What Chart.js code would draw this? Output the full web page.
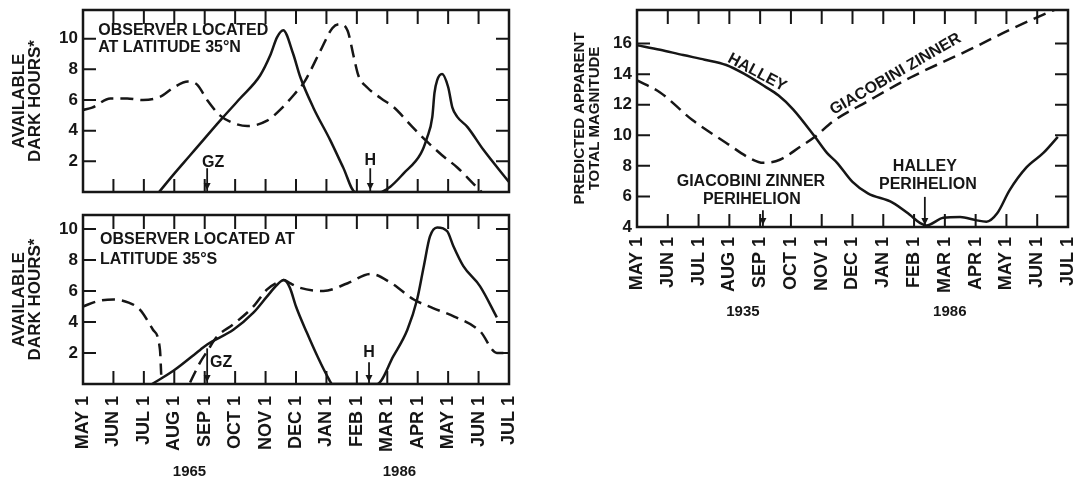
<!DOCTYPE html>
<html>
<head>
<meta charset="utf-8">
<script src="https://cdn.jsdelivr.net/npm/chart.js@4.4.1/dist/chart.umd.min.js"></script>
<style>
  html, body { margin: 0; padding: 0; background: #fff; }
  #wrap { position: relative; width: 1075px; height: 484px; overflow: hidden; background: #fff; }
  canvas { position: absolute; }
</style>
</head>
<body>
<div id="wrap">
  <canvas id="north" width="530" height="200" style="left:0px;top:0px"></canvas>
  <canvas id="south" width="530" height="279" style="left:0px;top:205px"></canvas>
  <canvas id="mag" width="535" height="330" style="left:540px;top:0px"></canvas>
</div>
<script>
// month axis shared by all three panels (May 1 -> Jul 1 of the next year)
const monthLabels = ['MAY 1', 'JUN 1', 'JUL 1', 'AUG 1', 'SEP 1', 'OCT 1', 'NOV 1', 'DEC 1',
                     'JAN 1', 'FEB 1', 'MAR 1', 'APR 1', 'MAY 1', 'JUN 1', 'JUL 1'];
const monthTicks = [0, 1, 2, 3, 4, 5, 6, 7, 8, 9, 10, 11, 12, 13, 14];
const hourTicks = [2, 4, 6, 8, 10];
const magTicks = [4, 6, 8, 10, 12, 14, 16];
const darkYears = ['1965', '1986'];
const magYears = ['1935', '1986'];

// 35°N : Halley (solid) and Giacobini-Zinner (dashed)
const northHalleyX = [2.5, 3.0, 3.5, 4.0, 4.57, 5.16, 5.82, 6.15, 6.38, 6.58, 6.9, 7.14, 7.57, 8.12, 8.55, 8.95, 9.77,
                      10.1, 10.53, 11.1, 11.3, 11.48, 11.55, 11.64, 11.8, 12.0, 12.14, 12.3, 12.63, 13.16, 14];
const northHalleyY = [0, 1.2, 2.35, 3.5, 4.8, 6.1, 7.6, 8.9, 10.1, 10.55, 9.05, 7.5, 5.5, 3.4, 1.6, 0, 0,
                      0.35, 1.2, 2.5, 3.5, 4.9, 6.45, 7.3, 7.7, 6.85, 5.5, 4.9, 4.25, 2.75, 0.65];
const northGzX = [0, 0.3, 0.9, 1.45, 1.97, 2.53, 2.97, 3.45, 3.75, 4.08, 4.5, 4.94, 5.4, 6.05, 6.5, 7.0,
                  7.25, 7.8, 8.2, 8.45, 8.7, 8.9, 9.05, 9.35, 9.8, 10.2, 10.8, 11.3, 11.8, 12.3, 12.8, 13.1];
const northGzY = [5.35, 5.5, 6.1, 6.1, 6.0, 6.2, 6.8, 7.2, 7.0, 6.0, 5.0, 4.5, 4.3, 4.65, 5.4, 6.5,
                  7.1, 9.2, 10.7, 10.95, 10.5, 8.8, 7.6, 6.8, 6.1, 5.55, 4.3, 3.3, 2.4, 1.6, 0.6, 0];

// 35°S
const southHalleyX = [2.27, 2.97, 3.85, 4.08, 4.94, 5.6, 6.05, 6.38, 6.6, 6.8, 7.0, 7.36, 7.7, 8.03, 8.2, 9.66,
                      10.2, 10.66, 10.98, 11.2, 11.4, 11.64, 11.97, 12.17, 12.5, 13.05, 13.6];
const southHalleyY = [0, 0.85, 2.2, 2.55, 3.5, 4.6, 5.65, 6.4, 6.7, 6.2, 5.0, 3.3, 1.8, 0.5, 0, 0,
                      1.8, 3.5, 5.45, 7.6, 9.5, 10.1, 9.85, 8.9, 7.6, 6.3, 4.3];
const southGzX = [0, 0.5, 1.0, 1.5, 1.87, 2.3, 2.53, 2.57, 3.0, 3.52, 3.85, 4.08, 4.4, 4.94, 5.6, 6.05, 6.45,
                  6.6, 6.8, 7.14, 7.9, 8.7, 9.45, 10.1, 10.87, 11.5, 12.2, 13.05, 13.6, 14];
const southGzY = [5.0, 5.35, 5.45, 5.25, 4.8, 3.5, 2.2, 0.6, null, 0.1, 1.4, 2.1, 3.05, 3.85, 5.0, 6.1, 6.6,
                  6.7, 6.5, 6.2, 6.0, 6.5, 7.1, 6.55, 5.45, 4.9, 4.35, 3.4, 2.0, 2.0];

// predicted apparent total magnitude
const magHalleyX = [0, 0.75, 1.5, 2.2, 2.9, 3.5, 4.15, 4.6, 5.07, 5.78, 6.17, 6.5, 7.0, 7.5, 8.3, 8.86, 9.2,
                    9.4, 9.95, 10.5, 11.0, 11.35, 11.7, 12.1, 12.65, 13.2, 13.67];
const magHalleyY = [15.9, 15.6, 15.25, 14.95, 14.6, 14.0, 13.2, 12.6, 11.7, 9.9, 8.85, 8.2, 6.95, 6.2, 5.6, 4.8, 4.25,
                    4.1, 4.6, 4.65, 4.45, 4.35, 4.9, 6.4, 7.9, 8.85, 9.9];
const magGzX = [0, 0.75, 1.8, 2.9, 3.67, 4.1, 4.64, 5.3, 5.78, 6.36, 7.47, 8.9, 10.8, 12.1, 13.2, 13.55];
const magGzY = [13.6, 12.8, 11.0, 9.5, 8.5, 8.2, 8.4, 9.25, 9.9, 10.9, 12.2, 13.8, 15.6, 16.9, 17.9, 18.2];

const INK = '#161616';
const FONT = "'Liberation Sans', Arial, sans-serif";

const pts = (xs, ys) => xs.map((x, i) => ({ x: x, y: ys[i] }));

function line(xs, ys, dashed) {
  return {
    data: pts(xs, ys),
    borderColor: INK,
    borderWidth: 2.5,
    borderDash: dashed ? [13, 7] : [],
    pointRadius: 0,
    fill: false,
    cubicInterpolationMode: 'monotone',
    spanGaps: false
  };
}

// box, inward ticks on all four sides, notes, arrows and year labels
const framePlugin = {
  id: 'frame',
  afterDraw(chart, args, opts) {
    const { ctx, chartArea: a } = chart;
    const x = chart.scales.x, y = chart.scales.y;
    ctx.save();
    ctx.strokeStyle = INK;
    ctx.fillStyle = INK;
    ctx.lineWidth = 2.5;
    ctx.strokeRect(a.left, a.top, a.right - a.left, a.bottom - a.top);
    ctx.lineWidth = 2;
    ctx.beginPath();
    x.ticks.forEach(t => {
      const px = x.getPixelForValue(t.value);
      ctx.moveTo(px, a.top); ctx.lineTo(px, a.top + 14);
      ctx.moveTo(px, a.bottom); ctx.lineTo(px, a.bottom - 13);
    });
    y.ticks.forEach(t => {
      const py = y.getPixelForValue(t.value);
      ctx.moveTo(a.left, py); ctx.lineTo(a.left + 13, py);
      ctx.moveTo(a.right, py); ctx.lineTo(a.right - 13, py);
    });
    ctx.stroke();

    (opts.arrows || []).forEach(ar => {
      const px = x.getPixelForValue(ar.x);
      const top = y.getPixelForValue(ar.from);
      const bot = y.getPixelForValue(ar.to);
      ctx.lineWidth = 1.8;
      ctx.beginPath(); ctx.moveTo(px, top); ctx.lineTo(px, bot); ctx.stroke();
      ctx.beginPath();
      ctx.moveTo(px - 3.5, bot - 9); ctx.lineTo(px + 3.5, bot - 9); ctx.lineTo(px, bot - 2);
      ctx.closePath(); ctx.fill();
    });

    ctx.font = 'bold 16px ' + FONT;
    ctx.textBaseline = 'middle';
    (opts.notes || []).forEach(n => {
      ctx.save();
      ctx.translate(x.getPixelForValue(n.x), y.getPixelForValue(n.y));
      ctx.rotate((n.angle || 0) * Math.PI / 180);
      ctx.textAlign = n.align || 'center';
      ctx.fillText(n.text, 0, 0);
      ctx.restore();
    });

    ctx.font = 'bold 15px ' + FONT;
    ctx.textAlign = 'center';
    (opts.years || []).forEach(yr => {
      ctx.fillText(yr.text, x.getPixelForValue(yr.x), a.bottom + yr.dy);
    });
    ctx.restore();
  }
};

function options(o) {
  return {
    responsive: false,
    animation: false,
    events: [],
    layout: { padding: o.pad },
    plugins: { legend: { display: false }, tooltip: { enabled: false }, frame: o.frame },
    scales: {
      x: {
        type: 'linear', min: 0, max: 14,
        afterBuildTicks: s => { s.ticks = monthTicks.map(v => ({ value: v })); },
        afterFit: s => { s.height = o.xHeight; s.paddingLeft = 0; s.paddingRight = 0; },
        grid: { display: false, drawTicks: false },
        border: { display: false },
        ticks: {
          display: o.showMonths, autoSkip: false, minRotation: 90, maxRotation: 90, padding: o.labelPad,
          color: INK, font: { family: FONT, size: 18, weight: 'bold' },
          callback: v => monthLabels[v]
        }
      },
      y: {
        type: 'linear', min: o.yMin, max: o.yMax,
        afterBuildTicks: s => { s.ticks = o.yTicks.map(v => ({ value: v })); },
        afterFit: s => { s.width = o.yWidth; s.paddingTop = 0; s.paddingBottom = 0; },
        grid: { display: false, drawTicks: false },
        border: { display: false },
        ticks: { padding: 5, color: INK, font: { family: FONT, size: 17, weight: 'bold' } },
        title: {
          display: true, text: o.yTitle, color: INK,
          font: { family: FONT, size: o.titleSize, weight: 'bold', lineHeight: o.titleLine },
          padding: { top: o.titleGap, bottom: 0 }
        }
      }
    }
  };
}

new Chart(document.getElementById('north'), {
  type: 'line',
  data: { datasets: [line(northHalleyX, northHalleyY, false), line(northGzX, northGzY, true)] },
  options: options({
    pad: { top: 10, right: 21, bottom: 0, left: 0 },
    xHeight: 8, showMonths: false, labelPad: 12,
    yMin: 0, yMax: 11.87, yTicks: hourTicks, yWidth: 83,
    yTitle: ['AVAILABLE', 'DARK HOURS*'], titleSize: 17, titleLine: 0.95, titleGap: 11,
    frame: {
      notes: [
        { text: 'OBSERVER LOCATED', x: 0.5, y: 10.55, align: 'left' },
        { text: 'AT LATITUDE 35°N', x: 0.5, y: 9.4, align: 'left' },
        { text: 'GZ', x: 4.28, y: 1.95 },
        { text: 'H', x: 9.44, y: 2.08 }
      ],
      arrows: [{ x: 4.08, from: 1.55, to: 0 }, { x: 9.44, from: 1.55, to: 0 }]
    }
  }),
  plugins: [framePlugin]
});

new Chart(document.getElementById('south'), {
  type: 'line',
  data: { datasets: [line(southHalleyX, southHalleyY, false), line(southGzX, southGzY, true)] },
  options: options({
    pad: { top: 10, right: 21, bottom: 0, left: 0 },
    xHeight: 100, showMonths: true, labelPad: 12,
    yMin: 0, yMax: 10.9, yTicks: hourTicks, yWidth: 83,
    yTitle: ['AVAILABLE', 'DARK HOURS*'], titleSize: 17, titleLine: 0.95, titleGap: 11,
    frame: {
      notes: [
        { text: 'OBSERVER LOCATED AT', x: 0.56, y: 9.3, align: 'left' },
        { text: 'LATITUDE 35°S', x: 0.56, y: 8.0, align: 'left' },
        { text: 'GZ', x: 4.54, y: 1.4 },
        { text: 'H', x: 9.4, y: 2.0 }
      ],
      arrows: [{ x: 4.08, from: 2.3, to: 0 }, { x: 9.4, from: 1.4, to: 0 }],
      years: [{ text: darkYears[0], x: 3.5, dy: 88 }, { text: darkYears[1], x: 10.4, dy: 88 }]
    }
  }),
  plugins: [framePlugin]
});

new Chart(document.getElementById('mag'), {
  type: 'line',
  data: { datasets: [line(magHalleyX, magHalleyY, false), line(magGzX, magGzY, true)] },
  options: options({
    pad: { top: 10, right: 7, bottom: 0, left: 0 },
    xHeight: 103, showMonths: true, labelPad: 10,
    yMin: 4, yMax: 18.2, yTicks: magTicks, yWidth: 97,
    yTitle: ['PREDICTED APPARENT', 'TOTAL MAGNITUDE'], titleSize: 15, titleLine: 0.95, titleGap: 33,
    frame: {
      notes: [
        { text: 'HALLEY', x: 3.9, y: 14.1, angle: 28 },
        { text: 'GIACOBINI ZINNER', x: 8.4, y: 14.0, angle: -30 },
        { text: 'GIACOBINI ZINNER', x: 3.7, y: 6.95 },
        { text: 'PERIHELION', x: 3.73, y: 5.77 },
        { text: 'HALLEY', x: 9.35, y: 7.93 },
        { text: 'PERIHELION', x: 9.45, y: 6.75 }
      ],
      arrows: [{ x: 4.09, from: 5.1, to: 4 }, { x: 9.35, from: 5.97, to: 4 }],
      years: [{ text: magYears[0], x: 3.44, dy: 85 }, { text: magYears[1], x: 10.16, dy: 85 }]
    }
  }),
  plugins: [framePlugin]
});
</script>
</body>
</html>
